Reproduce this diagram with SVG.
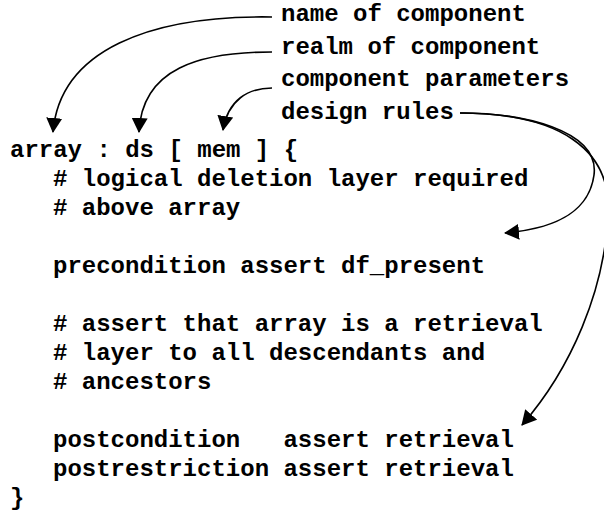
<svg xmlns="http://www.w3.org/2000/svg" width="604" height="513" viewBox="0 0 604 513">
<style>
text{font-family:"Liberation Mono","Courier New",monospace;font-weight:bold;font-size:24px;fill:#000;white-space:pre}
.c{fill:none;stroke:#000;stroke-width:1.6}
</style>
<defs>
<marker id="ah" viewBox="0 0 15 16" refX="14" refY="8" markerWidth="15" markerHeight="16" markerUnits="userSpaceOnUse" orient="auto">
<path d="M0,0 L15,8 L0,16 z" fill="#000"/>
</marker>
</defs>
<rect width="604" height="513" fill="#fff"/>
<g id="label-name"><text x="281" y="21">name of component</text></g>
<g id="label-realm"><text x="281" y="53.5">realm of component</text></g>
<g id="label-params"><text x="281" y="86">component parameters</text></g>
<g id="label-rules"><text x="281" y="118.5">design rules</text></g>
<g id="code">
<text x="10" y="157" xml:space="preserve">array : ds [ mem ] {</text>
<text x="53" y="186" xml:space="preserve"># logical deletion layer required</text>
<text x="53" y="215" xml:space="preserve"># above array</text>
<text x="53" y="273" xml:space="preserve">precondition assert df_present</text>
<text x="53" y="331" xml:space="preserve"># assert that array is a retrieval</text>
<text x="53" y="360" xml:space="preserve"># layer to all descendants and</text>
<text x="53" y="389" xml:space="preserve"># ancestors</text>
<text x="53" y="447" xml:space="preserve">postcondition   assert retrieval</text>
<text x="53" y="476" xml:space="preserve">postrestriction assert retrieval</text>
<text x="10" y="505" xml:space="preserve">}</text>
</g>
<g id="connectors">
<path class="c" marker-end="url(#ah)" d="M272,17 C150,15 60,50 53,132"/>
<path class="c" marker-end="url(#ah)" d="M272,52 C200,52 142,68 139,132"/>
<path class="c" marker-end="url(#ah)" d="M272,88 C248,88 228,100 223,130"/>
<path class="c" marker-end="url(#ah)" d="M460,113 C520,112 600,130 594,175 C588,220 540,230 505,233"/>
<path class="c" marker-end="url(#ah)" d="M460,113 C560,113 610,150 608,210 C606,290 570,370 522,425"/>
</g>
</svg>
